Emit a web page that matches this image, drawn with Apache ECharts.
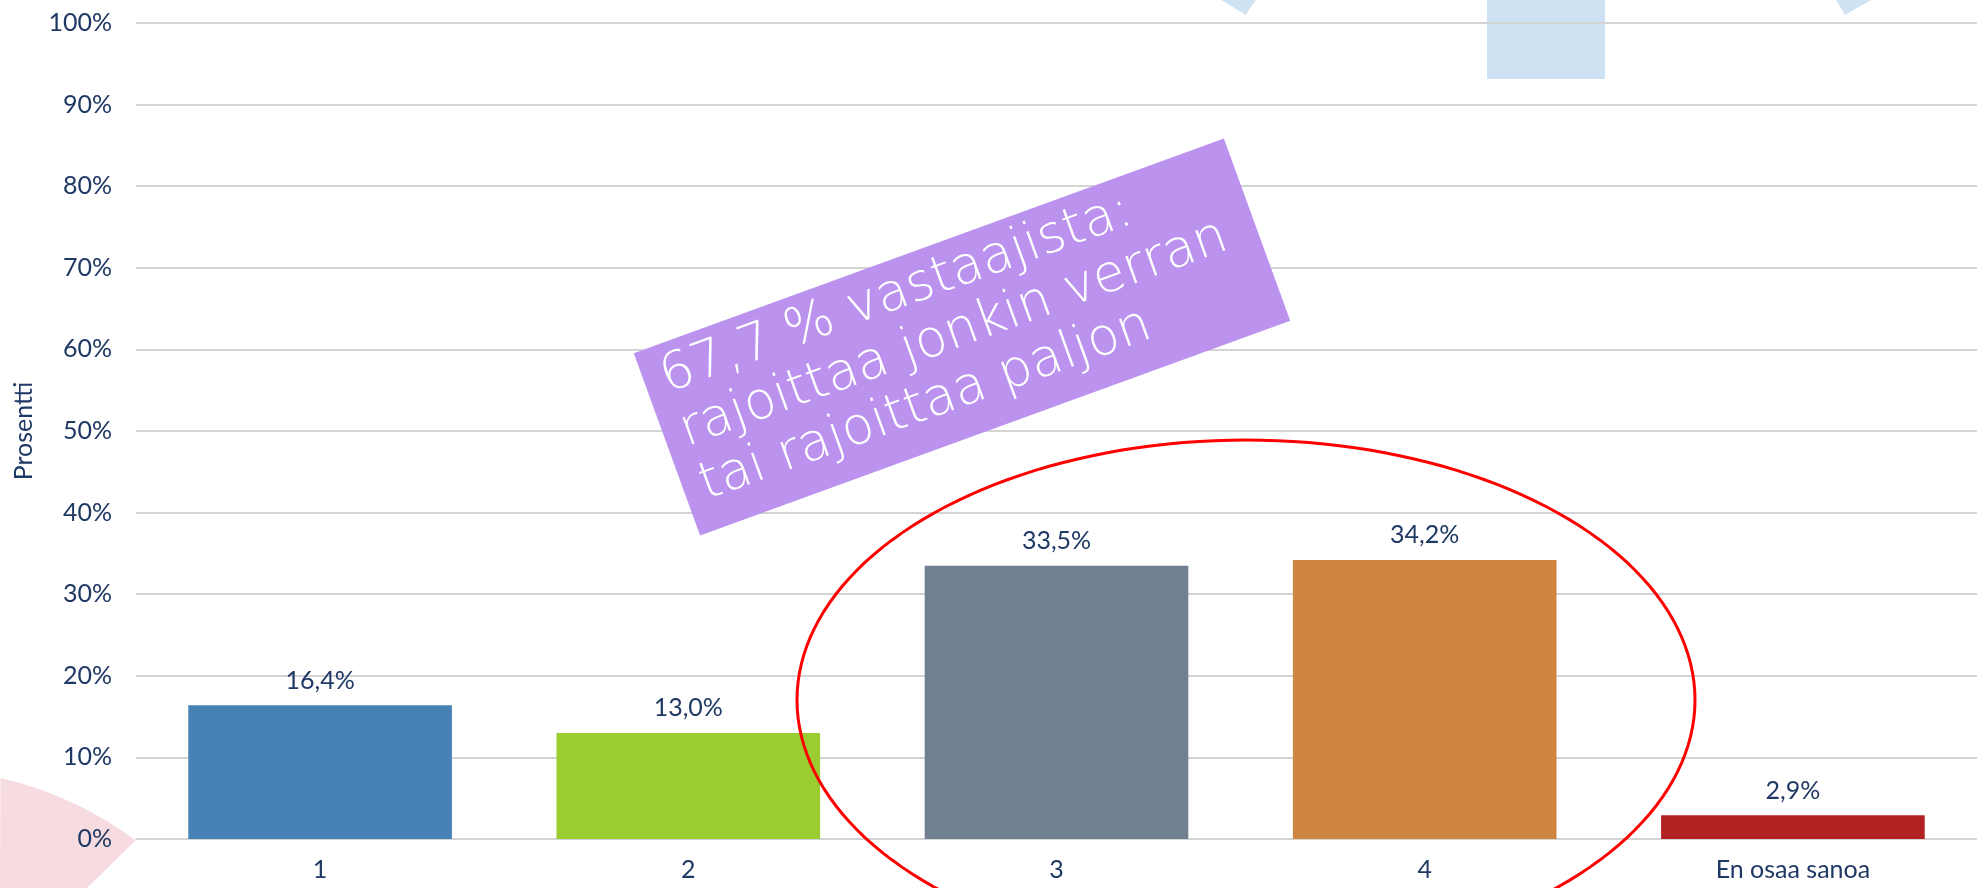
<!DOCTYPE html>
<html>
<head>
<meta charset="utf-8">
<title>Prosentti</title>
<script src="https://cdn.jsdelivr.net/npm/echarts@6/dist/echarts.min.js"></script>
<style>
html,body{margin:0;padding:0;background:#fff;}
#chart{width:1977px;height:888px;}
</style>
</head>
<body>
<div id="chart"></div>
<script>
// vastausluokat ja osuudet (%)
var categories = ['1', '2', '3', '4', 'En osaa sanoa'];
var values = [16.4, 13.0, 33.5, 34.2, 2.9];
var barColors = ['#4682B4', '#9ACD32', '#708090', '#CD853F', '#B22222'];
var yMin = 0, yMax = 100, yStep = 10;
var noteLines = ['67,7 % vastaajista:', 'rajoittaa jonkin verran', 'tai rajoittaa paljon'];

var textColor = '#1F3864';
var font = 'Lato, "Noto Sans", sans-serif';

// koristeiden ääriviivat (pelkkää piirtoa, ei dataa)
function ellipsePoints(cx, cy, rx, ry){
    var pts = [];
    for (var a = 0; a < 360; a += 2) {
        var r = a * Math.PI / 180;
        pts.push([cx + rx * Math.cos(r), cy + ry * Math.sin(r)]);
    }
    return pts;
}
function pinkPoints(){
    var cx = -80, cy = 1130, R = 361;
    var a1 = Math.atan2(780 - cy, 0 - cx), a2 = Math.atan2(839 - cy, 137 - cx);
    var pts = [];
    for (var i = 0; i <= 30; i++) {
        var a = a1 + (a2 - a1) * i / 30;
        pts.push([cx + R * Math.cos(a), cy + R * Math.sin(a)]);
    }
    pts.push([137, 839], [87, 888], [0, 888]);
    return pts;
}

function Config(id){
    this.id = id;
}
Config.prototype.init = function(){
    var data = values.map(function(v, i){
        return {value: v, itemStyle: {color: barColors[i]}};
    });
    var option = {
        backgroundColor: '#fff',
        grid: {
            left: 136, right: 0, top: 23, bottom: 49,
            containLabel: false,
            outerBoundsMode: 'none'
        },
        xAxis: {
            type: 'category',
            data: categories,
            axisTick: {show: false},
            axisLine: {lineStyle: {color: '#D4D4D4', width: 2}},
            axisLabel: {color: textColor, fontSize: 25, fontFamily: font, margin: 18}
        },
        yAxis: {
            type: 'value',
            min: yMin, max: yMax, interval: yStep,
            name: 'Prosentti',
            nameLocation: 'middle',
            nameGap: 100,
            nameTextStyle: {color: textColor, fontSize: 25, fontFamily: font},
            axisLine: {show: false},
            axisTick: {show: false},
            axisLabel: {color: textColor, fontSize: 25, fontFamily: font, margin: 24, formatter: '{value}%'},
            splitLine: {lineStyle: {color: '#D4D4D4', width: 2}}
        },
        series: [{
            type: 'bar',
            data: data,
            barWidth: '71.6%',
            label: {
                show: true,
                position: 'top',
                distance: 12,
                color: textColor,
                fontSize: 25,
                fontFamily: font,
                formatter: function(p){ return p.value.toFixed(1).replace('.', ',') + '%'; }
            }
        }],
        graphic: [
            // taustakuviot
            {type: 'rect', z: -1, shape: {x: 1487, y: 0, width: 118, height: 79}, style: {fill: '#CFE2F3'}},
            {type: 'polygon', z: -1, shape: {points: [[1221, 0], [1256, 0], [1250, 8], [1246, 15]]}, style: {fill: '#CFE2F3'}},
            {type: 'polygon', z: -1, shape: {points: [[1836, 0], [1871, 0], [1845, 15], [1841, 8]]}, style: {fill: '#CFE2F3'}},
            {type: 'polygon', z: -1, shape: {points: pinkPoints()}, style: {fill: '#F6DCE1'}},
            // punainen ellipsi
            {type: 'polygon', z: 100, shape: {points: ellipsePoints(1246, 700, 449, 260)},
             style: {fill: 'none', stroke: '#FF0000', lineWidth: 3}},
            // violetti laatikko
            {type: 'group', z: 100, x: 962, y: 337, rotation: 20 * Math.PI / 180,
             children: [
                {type: 'rect', z: 100, shape: {x: -314, y: -97, width: 628, height: 194}, style: {fill: '#BB93EE'}},
                {type: 'text', z: 101, x: -296, y: -5,
                 style: {text: noteLines.join('\n'), fill: '#fff', fontSize: 52, fontWeight: 200,
                         fontFamily: '"DejaVu Sans", sans-serif', lineHeight: 57, align: 'left', verticalAlign: 'middle'}}
             ]}
        ]
    };
    var myChart = echarts.init(this.id);
    myChart.setOption(option);
};
window.onload = function(){
    var chart1 = new Config(document.getElementById('chart'));
    chart1.init();
};
</script>
</body>
</html>
